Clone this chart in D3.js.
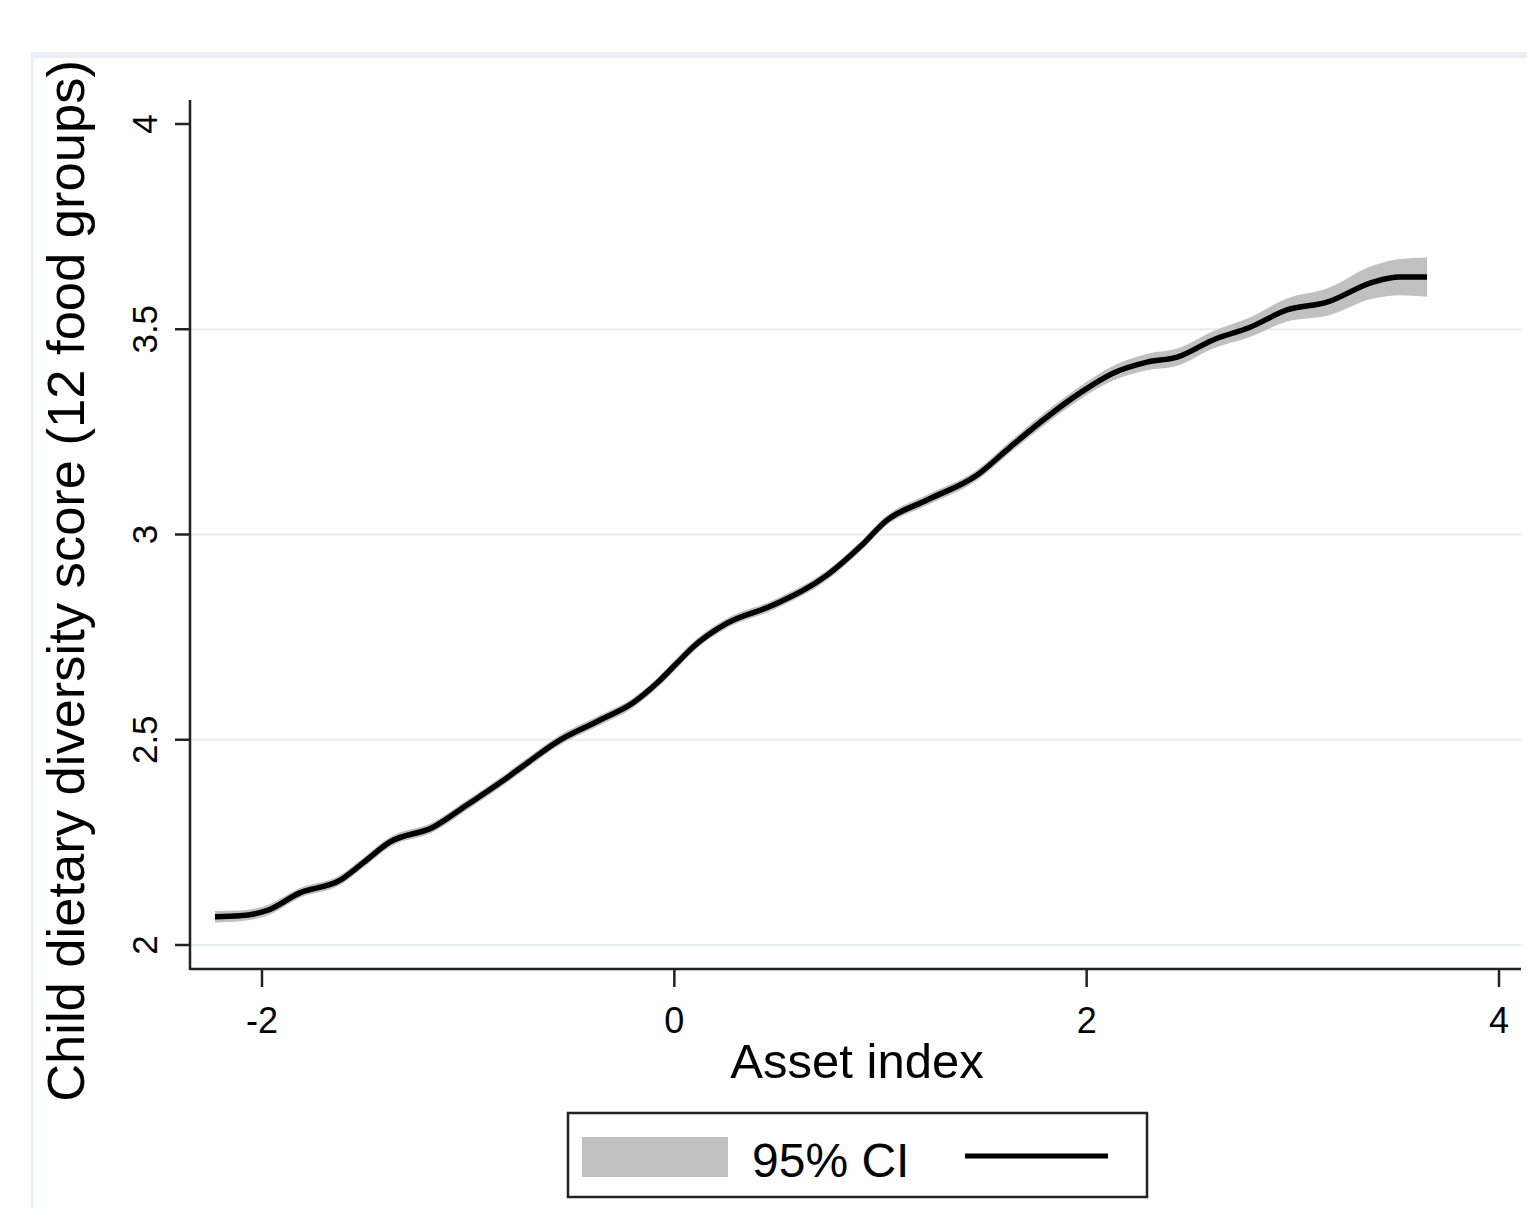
<!DOCTYPE html>
<html>
<head>
<meta charset="utf-8">
<script src="https://cdn.jsdelivr.net/npm/d3@7"></script>
<style>
  body { margin: 0; background: #fff; }
  svg text { font-family: "Liberation Sans", Arial, sans-serif; fill: #000; }
</style>
</head>
<body>
<svg id="chart" width="1527" height="1209"></svg>
<script>
// asset index (x) and fitted child dietary diversity score with 95% CI
const assetIndex = [-2.228, -2.107, -1.976, -1.816, -1.621, -1.510, -1.379, -1.170, -1.006, -0.846,
  -0.715, -0.569, -0.360, -0.200, -0.084, 0.013, 0.091, 0.256, 0.479, 0.741,
  0.901, 1.032, 1.226, 1.469, 1.629, 1.789, 1.968, 2.128, 2.293, 2.439,
  2.613, 2.793, 2.972, 3.166, 3.389, 3.520, 3.651];
const dietScore = [2.069, 2.071, 2.084, 2.127, 2.158, 2.200, 2.251, 2.287, 2.341, 2.395,
  2.443, 2.495, 2.548, 2.590, 2.638, 2.687, 2.726, 2.784, 2.828, 2.901,
  2.970, 3.035, 3.084, 3.145, 3.213, 3.279, 3.345, 3.393, 3.420, 3.432,
  3.474, 3.505, 3.547, 3.566, 3.615, 3.627, 3.627];
const ciLow = [2.055, 2.058, 2.071, 2.115, 2.146, 2.188, 2.239, 2.275, 2.329, 2.383,
  2.431, 2.483, 2.536, 2.578, 2.626, 2.675, 2.714, 2.772, 2.816, 2.889,
  2.958, 3.023, 3.071, 3.132, 3.199, 3.264, 3.329, 3.375, 3.400, 3.411,
  3.453, 3.481, 3.519, 3.533, 3.575, 3.583, 3.579];
const ciHigh = [2.083, 2.084, 2.097, 2.139, 2.170, 2.212, 2.263, 2.299, 2.353, 2.407,
  2.455, 2.507, 2.560, 2.602, 2.650, 2.699, 2.738, 2.796, 2.840, 2.913,
  2.982, 3.047, 3.097, 3.158, 3.227, 3.294, 3.361, 3.411, 3.440, 3.453,
  3.495, 3.529, 3.575, 3.599, 3.655, 3.671, 3.675];

const xTicks = [-2, 0, 2, 4];
const yTicks = [2, 2.5, 3, 3.5, 4];
const yGrid = [2, 2.5, 3, 3.5];
const xTitle = 'Asset index';
const yTitle = 'Child dietary diversity score (12 food groups)';
const legendLabel = '95% CI';

const points = assetIndex.map((x, i) => ({ x, y: dietScore[i], lo: ciLow[i], hi: ciHigh[i] }));

const svg = d3.select('#chart');

// light outer frame (graph region border)
svg.append('rect').attr('x', 31).attr('y', 52).attr('width', 1496).attr('height', 6).attr('fill', '#e9eff3');
svg.append('rect').attr('x', 31).attr('y', 52).attr('width', 2.5).attr('height', 1157).attr('fill', '#e9eff3');

const plotLeft = 190, plotRight = 1521, plotTop = 100, plotBottom = 969;

const x = d3.scaleLinear().domain([-2, 4]).range([262, 1499]);
const y = d3.scaleLinear().domain([2, 4]).range([945, 124]);

// gridlines
svg.selectAll('.grid')
  .data(yGrid)
  .enter()
  .append('line')
  .attr('class', 'grid')
  .attr('x1', plotLeft)
  .attr('x2', plotRight)
  .attr('y1', (d) => y(d))
  .attr('y2', (d) => y(d))
  .attr('stroke', '#e4eef0')
  .attr('stroke-width', 2);

// confidence band
const area = d3.area()
  .x((d) => x(d.x))
  .y0((d) => y(d.lo))
  .y1((d) => y(d.hi))
  .curve(d3.curveMonotoneX);

svg.append('path')
  .datum(points)
  .attr('d', area)
  .attr('fill', '#c0c0c0');

const line = d3.line()
  .x((d) => x(d.x))
  .y((d) => y(d.y))
  .curve(d3.curveMonotoneX);

svg.append('path')
  .datum(points)
  .attr('d', line)
  .attr('fill', 'none')
  .attr('stroke', '#000')
  .attr('stroke-width', 5.5);

// axes
const axisColor = '#222';
svg.append('line')
  .attr('x1', plotLeft).attr('x2', plotLeft)
  .attr('y1', plotTop).attr('y2', plotBottom + 1)
  .attr('stroke', axisColor).attr('stroke-width', 2.5);
svg.append('line')
  .attr('x1', plotLeft).attr('x2', plotRight)
  .attr('y1', plotBottom).attr('y2', plotBottom)
  .attr('stroke', axisColor).attr('stroke-width', 2.5);

// y ticks
svg.selectAll('.ytick')
  .data(yTicks)
  .enter()
  .append('line')
  .attr('class', 'ytick')
  .attr('x1', 175).attr('x2', plotLeft)
  .attr('y1', (d) => y(d)).attr('y2', (d) => y(d))
  .attr('stroke', axisColor).attr('stroke-width', 2.5);

svg.selectAll('.ylabel')
  .data(yTicks)
  .enter()
  .append('text')
  .attr('class', 'ylabel')
  .attr('transform', (d) => `translate(157,${y(d)}) rotate(-90)`)
  .attr('text-anchor', 'middle')
  .style('font-size', '35px')
  .text((d) => d);

// x ticks
svg.selectAll('.xtick')
  .data(xTicks)
  .enter()
  .append('line')
  .attr('class', 'xtick')
  .attr('x1', (d) => x(d)).attr('x2', (d) => x(d))
  .attr('y1', plotBottom).attr('y2', 987)
  .attr('stroke', axisColor).attr('stroke-width', 2.5);

svg.selectAll('.xlabel')
  .data(xTicks)
  .enter()
  .append('text')
  .attr('class', 'xlabel')
  .attr('x', (d) => x(d))
  .attr('y', 1033)
  .attr('text-anchor', 'middle')
  .style('font-size', '36px')
  .text((d) => d);

// axis titles
svg.append('text')
  .attr('x', 857)
  .attr('y', 1078)
  .attr('text-anchor', 'middle')
  .style('font-size', '49px')
  .text(xTitle);

svg.append('text')
  .attr('transform', 'translate(84,581) rotate(-90)')
  .attr('text-anchor', 'middle')
  .style('font-size', '52.5px')
  .text(yTitle);

// legend
const legend = svg.append('g');
legend.append('rect')
  .attr('x', 568).attr('y', 1113).attr('width', 579).attr('height', 84)
  .attr('fill', '#fff').attr('stroke', axisColor).attr('stroke-width', 2.5);
legend.append('rect')
  .attr('x', 582).attr('y', 1137).attr('width', 146).attr('height', 40)
  .attr('fill', '#c0c0c0');
legend.append('text')
  .attr('x', 752).attr('y', 1177)
  .style('font-size', '48px')
  .text(legendLabel);
legend.append('line')
  .attr('x1', 965).attr('x2', 1108)
  .attr('y1', 1156).attr('y2', 1156)
  .attr('stroke', '#000').attr('stroke-width', 5);
</script>
</body>
</html>
